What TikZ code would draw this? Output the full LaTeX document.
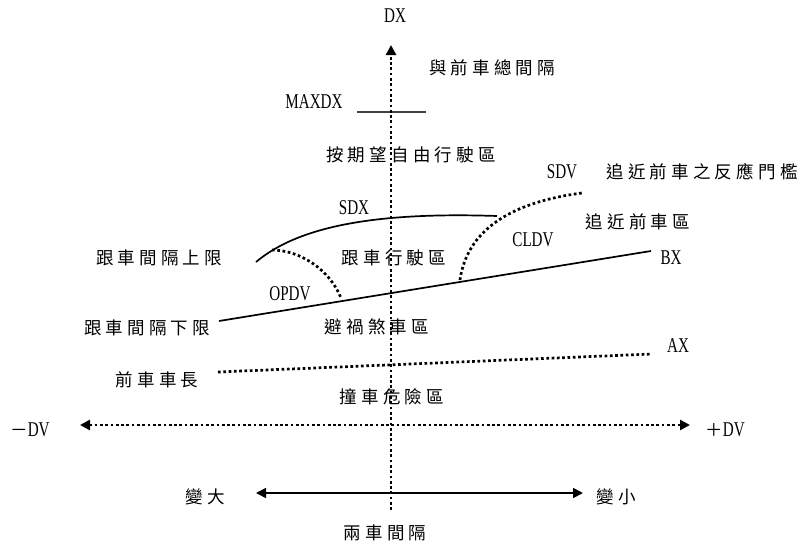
\documentclass[tikz,border=0pt]{standalone}
\usepackage{fontspec}
\setmainfont[FakeStretch=0.72]{Liberation Serif}
\newfontfamily\cjk[LetterSpace=24]{Noto Sans CJK TC}
\usetikzlibrary{arrows.meta}
\begin{document}
\begin{tikzpicture}[x=1pt,y=-1pt,
  lat/.style={font=\fontsize{21}{21}\selectfont, inner sep=0pt},
  zh/.style={font=\cjk\fontsize{17.5}{17.5}\selectfont, inner sep=0pt},
  dotline/.style={line width=2.7pt, dash pattern=on 2.7pt off 2.6pt},
  solidline/.style={line width=1.7pt},
  tip/.style={-{Triangle[length=10pt,width=10pt]}}]
\useasboundingbox (0,0) rectangle (804,549);
% coordinates
\coordinate (vtop) at (391,45);
\coordinate (vbot) at (391,510);
\coordinate (hl) at (80,425);
\coordinate (hr) at (690,425);
\coordinate (mxl) at (357,112);
\coordinate (mxr) at (426,112);
\coordinate (sdxa) at (256,262);
\coordinate (sdxb) at (497,216);
\coordinate (opa) at (272,250);
\coordinate (opb) at (341,298);
\coordinate (cla) at (460,280);
\coordinate (clb) at (582,193);
\coordinate (bxa) at (219,321);
\coordinate (bxb) at (651,251);
\coordinate (axa) at (218,372);
\coordinate (axb) at (652,354);
\coordinate (ca) at (256,493);
\coordinate (cb) at (583,493);
% labels
\node[lat] (dx) at (395,16) {DX};
\node[zh] (t1) at (492,68) {與前車總間隔};
\node[lat] (maxdx) at (314,102) {MAXDX};
\node[zh] (t2) at (411,155) {按期望自由行駛區};
\node[lat] (sdv) at (562,172) {SDV};
\node[zh] (t3) at (702,172) {追近前車之反應門檻};
\node[lat] (sdx) at (354,208) {SDX};
\node[zh] (t4) at (638,222) {追近前車區};
\node[lat] (cldv) at (533,240) {CLDV};
\node[zh] (t5) at (159,258) {跟車間隔上限};
\node[zh] (t6) at (394,258) {跟車行駛區};
\node[lat] (bx) at (671,258) {BX};
\node[lat] (opdv) at (290,294) {OPDV};
\node[zh] (t7) at (147,328) {跟車間隔下限};
\node[zh] (t8) at (377,327) {避禍煞車區};
\node[lat] (ax) at (678,346) {AX};
\node[zh] (t9) at (157,380) {前車車長};
\node[zh] (t10) at (392,397) {撞車危險區};
\node[lat] (mdv) at (30,430) {{\cjk\fontsize{17.5}{17.5}\selectfont －}DV};
\node[lat] (pdv) at (725,430) {{\cjk\fontsize{17.5}{17.5}\selectfont ＋}DV};
\node[zh] (t11) at (205,497) {變大};
\node[zh] (t12) at (616,497) {變小};
\node[zh] (t13) at (385,533) {兩車間隔};
% lines
\draw[solidline, draw=black!75] (mxl) -- (mxr);
\draw[dotline, tip] (vbot) -- (vtop);
\draw[dotline, {Triangle[length=10pt,width=10pt]}-{Triangle[length=10pt,width=10pt]}] (hl) -- (hr);
\draw[solidline] (sdxa) .. controls (300,225) and (380,212) .. (sdxb);
\draw[dotline] (opa) .. controls (300,250) and (330,270) .. (opb);
\draw[dotline] (cla) .. controls (465,245) and (490,205) .. (clb);
\draw[solidline] (bxa) -- (bxb);
\draw[dotline] (axa) -- (axb);
\draw[solidline, {Triangle[length=10pt,width=10pt]}-{Triangle[length=10pt,width=10pt]}] (ca) -- (cb);
\end{tikzpicture}
\end{document}
